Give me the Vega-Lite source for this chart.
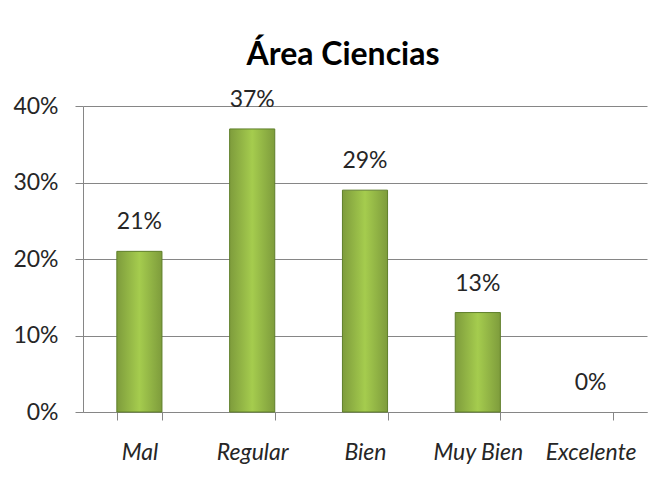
{
  "$schema": "https://vega.github.io/schema/vega-lite/v6.json",
  "width": 564,
  "height": 306,
  "autosize": "none",
  "padding": {"left": 83, "top": 106, "right": 11, "bottom": 79},
  "background": "white",
  "title": {
    "text": "Área Ciencias",
    "font": "Lato",
    "fontSize": 32,
    "fontWeight": "bold",
    "color": "#000000",
    "anchor": "middle",
    "dx": -22,
    "offset": 17
  },
  "data": {
    "values": [
      {"cat": "Mal", "val": 0.21},
      {"cat": "Regular", "val": 0.37},
      {"cat": "Bien", "val": 0.29},
      {"cat": "Muy Bien", "val": 0.13},
      {"cat": "Excelente", "val": 0.0}
    ]
  },
  "encoding": {
    "x": {
      "field": "cat",
      "type": "nominal",
      "sort": null,
      "scale": {"paddingInner": 0.6, "paddingOuter": 0.3},
      "axis": {
        "title": null,
        "labelAngle": 0,
        "labelFont": "Lato",
        "labelFontStyle": "italic",
        "labelFontSize": 23,
        "labelColor": "#262626",
        "labelPadding": 21,
        "tickBand": "extent",
        "tickSize": 8,
        "tickColor": "#868686",
        "domainColor": "#868686",
        "grid": false
      }
    },
    "y": {
      "field": "val",
      "type": "quantitative",
      "scale": {"domain": [0, 0.4]},
      "axis": {
        "title": null,
        "values": [0, 0.1, 0.2, 0.3, 0.4],
        "format": ".0%",
        "labelFont": "Lato",
        "labelFontSize": 23,
        "labelColor": "#262626",
        "labelPadding": 17,
        "tickSize": 8,
        "tickColor": "#868686",
        "domainColor": "#868686",
        "gridColor": "#868686",
        "grid": true
      }
    }
  },
  "layer": [
    {
      "mark": {
        "type": "bar",
        "stroke": "#5f7f2a",
        "strokeWidth": 1,
        "color": {
          "gradient": "linear",
          "x1": 0, "y1": 0, "x2": 1, "y2": 0,
          "stops": [
            {"offset": 0, "color": "#7e9c3c"},
            {"offset": 0.5, "color": "#a5cc4e"},
            {"offset": 1, "color": "#7e9c3c"}
          ]
        }
      },
      "encoding": {
        "strokeOpacity": {"condition": {"test": "datum.val == 0", "value": 0}, "value": 1}
      }
    },
    {
      "mark": {
        "type": "text",
        "baseline": "alphabetic",
        "dy": -22,
        "font": "Lato",
        "fontSize": 23,
        "color": "#262626"
      },
      "encoding": {
        "text": {"field": "val", "type": "quantitative", "format": ".0%"}
      }
    }
  ],
  "config": {
    "view": {"stroke": null}
  }
}
